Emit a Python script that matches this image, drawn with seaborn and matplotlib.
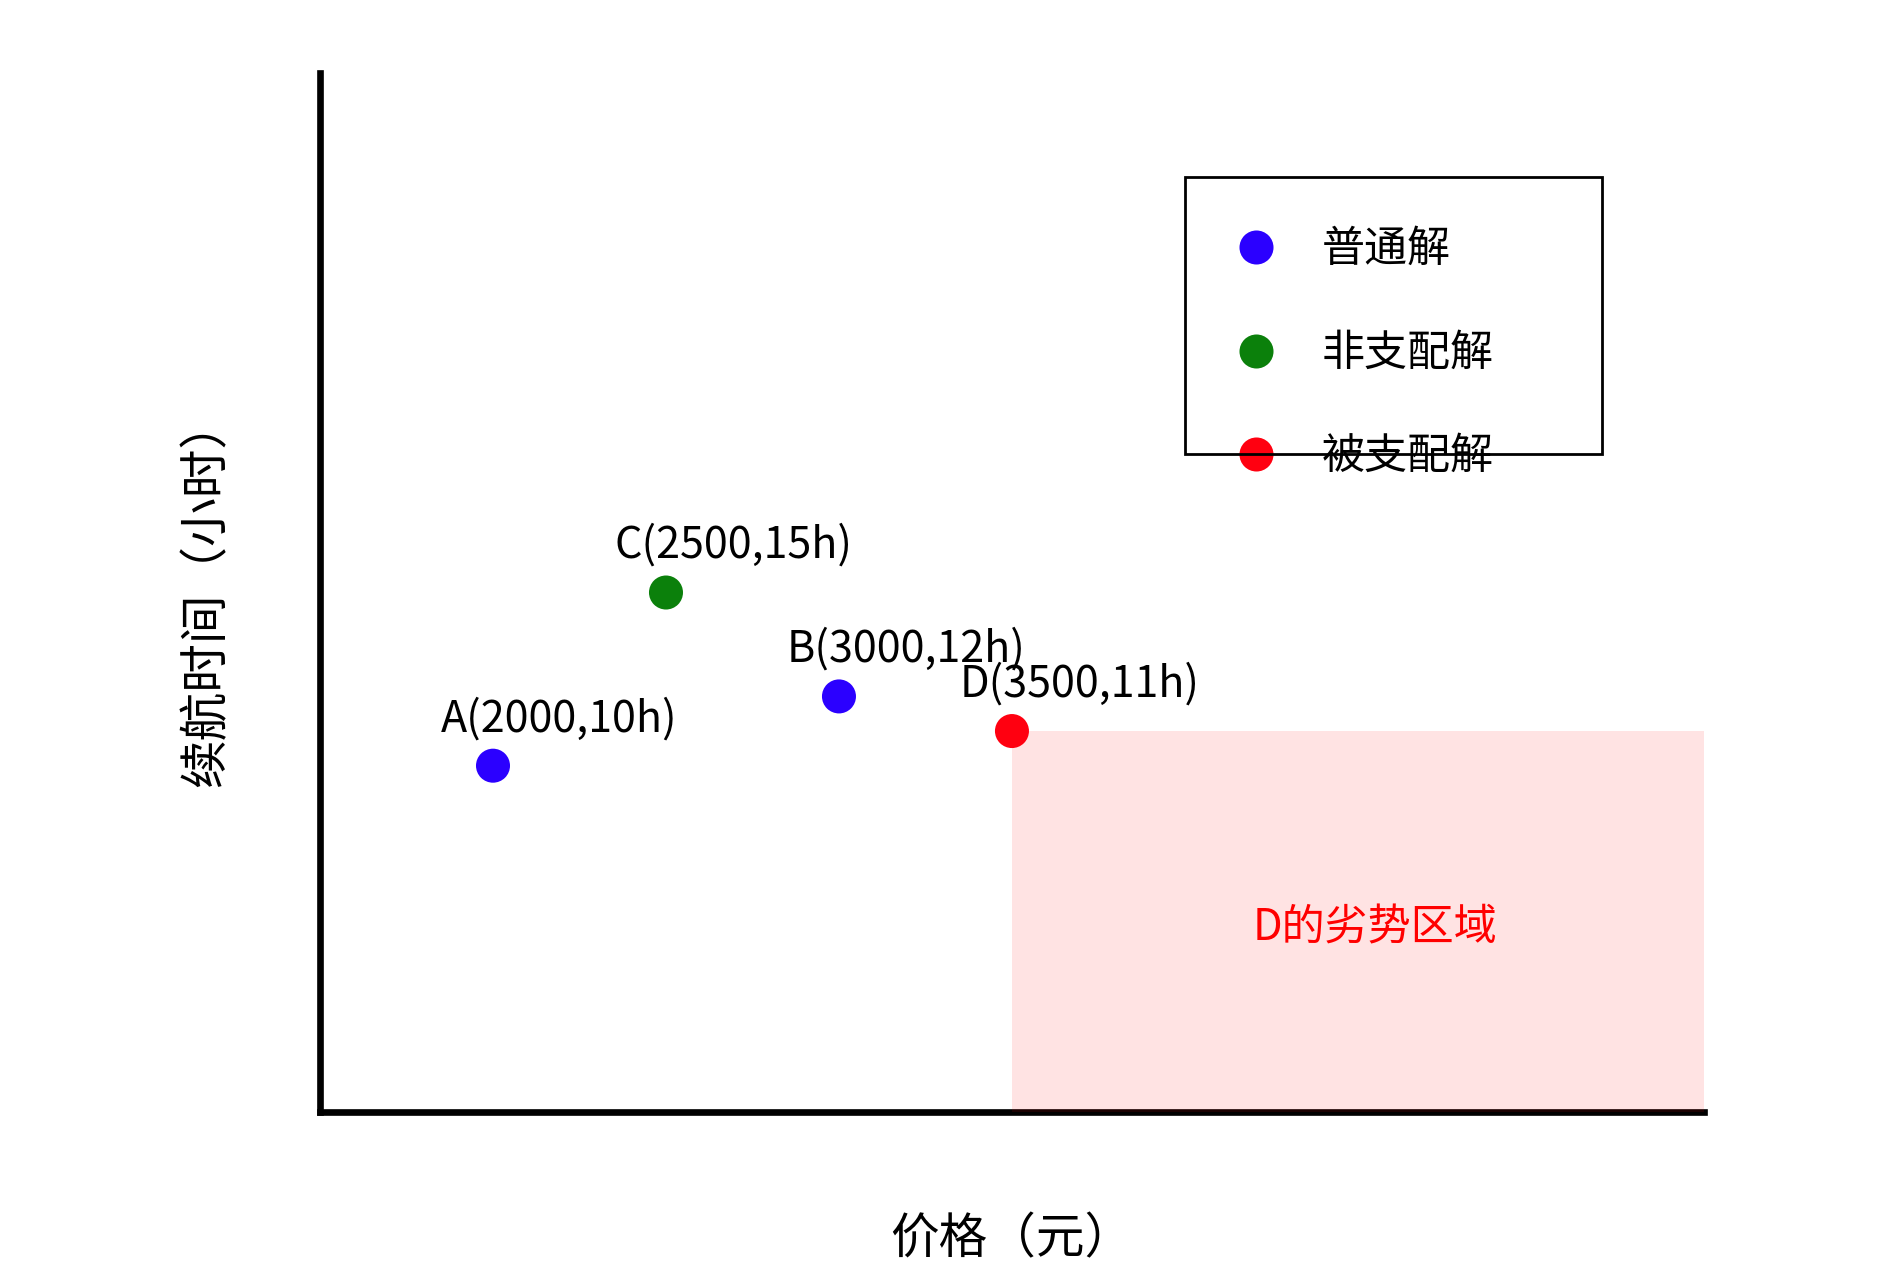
import pandas as pd
import matplotlib.pyplot as plt
import seaborn as sns
from matplotlib.lines import Line2D
from matplotlib.patches import Rectangle

# -----------------------------
# Data
# -----------------------------
NAMES = ['A', 'B', 'C', 'D']
PRICE = [2000, 3000, 2500, 3500]
HOURS = [10, 12, 15, 11]
KIND = ['普通解', '普通解', '非支配解', '被支配解']

LEGEND_ORDER = ['普通解', '非支配解', '被支配解']
COLORS = {'普通解': '#2b00ff', '非支配解': '#0b800b', '被支配解': '#ff0010'}

X_LIM = (1500, 5500)
Y_LIM = (0, 30)
REGION_TEXT = 'D的劣势区域'
REGION_TEXT_POS = (4550, 5.3)

# -----------------------------
# Style
# -----------------------------
sns.set_style('white')
plt.rcParams['font.family'] = ['Noto Sans CJK SC', 'DejaVu Sans']
plt.rcParams['text.color'] = 'black'
plt.rcParams['axes.labelcolor'] = 'black'
FS = 31
LABEL_FS = 35

df = pd.DataFrame({'name': NAMES, 'price': PRICE, 'hours': HOURS, 'kind': KIND})

fig = plt.figure(figsize=(18.78, 12.67), dpi=100)
ax = fig.add_axes([0.1704, 0.1223, 0.7369, 0.8201])

# dominated region of D
d = df[df['name'] == 'D'].iloc[0]
ax.fill_between([d['price'], X_LIM[1]], 0, d['hours'], color='#ff0000',
                alpha=0.11, linewidth=0, zorder=3)
ax.text(REGION_TEXT_POS[0], REGION_TEXT_POS[1], REGION_TEXT, color='red',
        fontsize=FS, ha='center', va='center', zorder=4)

sns.scatterplot(data=df, x='price', y='hours', hue='kind', palette=COLORS,
                s=600, edgecolor='none', legend=False, ax=ax, zorder=5)

for _, row in df.iterrows():
    ax.text(row['price'] - 150, row['hours'] + 1,
            f"{row['name']}({row['price']},{row['hours']}h)",
            fontsize=FS, color='black', ha='left', va='baseline', zorder=6)

ax.set_xlim(*X_LIM)
ax.set_ylim(*Y_LIM)
ax.set_xticks([])
ax.set_yticks([])
ax.set_xlabel('价格（元）', fontsize=LABEL_FS, labelpad=74)
ax.set_ylabel('续航时间（小时）', fontsize=LABEL_FS, labelpad=64)

sns.despine(ax=ax)
for side in ['left', 'bottom']:
    ax.spines[side].set_linewidth(4.8)
    ax.spines[side].set_color('black')

# legend: entries and a separate frame
handles = [Line2D([], [], marker='o', linestyle='', markersize=24.5,
                  markerfacecolor=COLORS[k], markeredgecolor='none', label=k)
           for k in LEGEND_ORDER]
leg = ax.legend(handles=handles, loc='center left', bbox_to_anchor=(0.645, 0.7299),
                frameon=False, fontsize=FS, borderpad=0, borderaxespad=0,
                handlelength=2, handletextpad=0.54, labelspacing=1.38)
for t in leg.get_texts():
    t.set_color('black')
ax.add_patch(Rectangle((0.625, 0.633), 0.301, 0.267, transform=ax.transAxes,
                       fill=False, edgecolor='black', linewidth=2,
                       clip_on=False, zorder=7))

plt.savefig('out.png', dpi=100)
